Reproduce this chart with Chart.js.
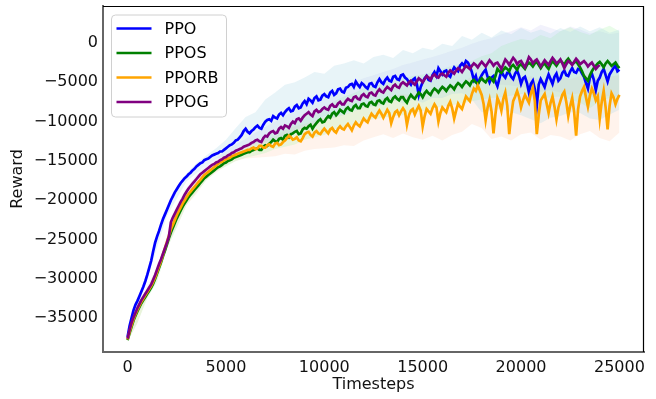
<!DOCTYPE html>
<html>
<head>
<meta charset="utf-8">
<script src="https://cdn.jsdelivr.net/npm/chart.js@4"></script>
<style>
  html, body { margin: 0; padding: 0; background: #fff; }
  #wrap { width: 656px; height: 399px; }
</style>
</head>
<body>
<div id="wrap"><canvas id="reward-canvas" width="656" height="399"></canvas></div>
<script>
// series names + colours (legend order)
const seriesNames = ['PPO', 'PPOS', 'PPORB', 'PPOG'];
const seriesColors = ['#0000ff', '#008000', '#ffa500', '#800080'];

// axis ticks
const xTicks = [0, 5000, 10000, 15000, 20000, 25000];
const yTicks = [-35000, -30000, -25000, -20000, -15000, -10000, -5000, 0];

// mean reward, one value every 100 timesteps (one row = 1000 timesteps)
const ppo = [
  -37400, -36000, -35000, -34000, -33300, -32800, -32200, -31600, -31000, -30300,
  -29500, -28600, -27700, -26500, -25400, -24600, -23900, -23100, -22400, -21800,
  -21200, -20600, -20000, -19500, -19000, -18600, -18200, -17800, -17500, -17200,
  -17000, -16700, -16500, -16200, -16000, -15700, -15500, -15300, -15200, -14900,
  -14800, -14700, -14500, -14300, -14200, -14100, -14000, -13800, -13800, -13600,
  -13400, -13200, -13000, -12900, -12700, -12400, -12300, -12000, -11700, -11200,
  -10900, -11300, -11500, -11200, -11000, -10700, -10500, -10800, -10900, -10400,
  -10000, -9800, -9700, -9900, -9300, -9500, -9600, -9100, -8900, -9200,
  -8800, -8500, -8300, -8700, -8600, -8100, -7900, -8300, -8200, -7700,
  -7400, -7800, -7100, -7300, -7600, -7000, -6800, -7300, -7200, -6700,
  -6500, -6800, -6900, -6300, -6100, -6600, -6400, -5900, -5800, -6200,
  -6300, -5700, -5600, -5300, -5200, -5600, -4900, -5300, -5600, -5100,
  -5300, -5600, -5800, -5200, -5100, -5500, -5600, -5000, -4600, -5000,
  -5200, -4700, -4400, -4800, -4900, -4300, -4200, -4600, -4700, -4100,
  -4000, -4400, -4600, -5000, -5300, -4700, -4500, -5200, -6600, -5600,
  -5000, -4500, -4200, -4700, -4800, -4100, -3700, -4200, -3200, -3600,
  -4000, -3600, -3500, -4100, -4300, -3600, -3100, -3400, -3600, -2900,
  -2600, -2900, -2300, -2500, -3000, -3700, -4700, -4200, -5300, -4600,
  -4100, -3700, -3400, -4300, -5000, -4400, -4200, -4900, -5500, -4500,
  -3600, -4100, -4400, -3800, -3800, -4300, -4600, -3900, -3500, -4200,
  -5200, -4500, -4300, -5100, -6300, -5200, -4800, -5900, -8000, -5300,
  -4600, -5100, -5600, -4700, -4000, -4600, -5200, -4300, -3900, -4800,
  -4500, -3800, -3500, -4100, -4200, -3600, -3200, -3700, -3800, -3300,
  -3400, -3900, -4300, -5100, -5800, -4400, -3900, -4700, -6000, -4800,
  -4400, -3700, -3300, -4100, -4900, -4000, -3600, -3200, -2900, -3600,
  -3400
];
const ppos = [
  -37800, -36900, -36100, -35300, -34700, -34100, -33600, -33100, -32700, -32300,
  -31900, -31500, -31100, -30600, -30000, -29300, -28600, -27900, -27100, -26400,
  -25600, -24800, -24100, -23500, -22900, -22300, -21800, -21300, -20800, -20400,
  -20000, -19600, -19300, -19000, -18700, -18400, -18100, -17800, -17500, -17200,
  -17000, -16800, -16600, -16400, -16200, -16000, -15800, -15700, -15500, -15300,
  -15200, -15000, -14900, -14800, -14600, -14500, -14400, -14300, -14200, -14100,
  -14000, -13900, -13900, -13700, -13600, -13500, -13400, -13600, -13600, -13200,
  -13000, -13100, -12800, -12600, -12300, -12500, -12600, -12200, -12100, -12300,
  -11800, -11700, -12000, -11600, -11500, -11300, -11200, -11600, -11500, -11000,
  -10800, -10900, -10600, -10400, -10900, -10500, -10200, -9900, -9700, -10100,
  -10000, -9600, -9300, -9500, -9000, -8800, -9200, -8900, -8500, -8700,
  -8900, -8400, -8200, -8500, -8600, -8100, -7900, -8300, -8300, -7800,
  -7700, -8000, -8100, -7600, -7500, -7800, -7900, -7400, -7300, -7600,
  -7700, -7200, -7000, -7400, -7500, -7000, -6800, -7100, -7300, -6900,
  -6900, -7300, -7600, -7000, -6600, -6900, -7100, -6700, -6300, -6500,
  -6900, -6400, -6100, -6400, -6600, -6100, -5800, -6000, -6300, -5900,
  -5600, -5800, -6100, -5700, -5400, -5600, -5900, -5400, -5100, -5300,
  -5600, -5200, -4900, -5100, -5400, -4900, -4700, -5000, -5200, -4800,
  -4500, -4800, -5000, -4600, -4400, -4600, -4900, -4200, -3300, -3600,
  -3800, -3400, -3100, -3300, -3600, -3000, -2800, -3100, -3400, -2900,
  -2700, -3000, -3300, -2800, -2500, -2700, -3000, -2600, -2400, -2800,
  -3200, -2800, -2600, -3000, -3300, -2700, -2300, -2600, -2900, -2500,
  -2200, -2500, -2800, -2300, -2000, -2400, -2700, -2500, -2300, -2700,
  -3100, -3600, -4200, -4500, -4800, -4100, -3600, -3200, -2900, -2600,
  -2400, -2700, -3100, -2600, -2300, -2600, -2900, -2700, -2500, -2900,
  -3200
];
const pporb = [
  -37700, -36700, -35900, -35100, -34500, -33900, -33400, -32900, -32500, -32100,
  -31700, -31300, -30900, -30400, -29800, -29100, -28400, -27700, -26900, -26100,
  -25300, -24500, -23700, -23100, -22500, -21900, -21400, -20900, -20400, -20000,
  -19600, -19200, -18900, -18600, -18300, -18000, -17700, -17400, -17100, -16800,
  -16600, -16400, -16200, -16000, -15800, -15600, -15400, -15200, -15100, -14900,
  -14800, -14700, -14600, -14400, -14300, -14200, -14100, -14000, -13900, -13800,
  -13700, -13600, -13600, -13400, -13300, -13500, -13400, -13100, -13100, -13300,
  -13300, -13000, -12900, -13100, -13200, -12800, -12700, -13000, -12900, -12600,
  -12400, -12100, -11800, -12000, -12300, -12200, -12000, -12400, -12500, -12100,
  -11600, -11400, -11300, -11700, -11900, -11400, -11200, -11500, -11600, -11200,
  -10900, -11200, -11500, -11000, -10800, -11200, -11400, -10900, -10600, -10900,
  -11000, -10600, -10300, -10700, -11100, -10500, -10100, -10400, -10600, -10100,
  -9600, -9900, -10100, -9500, -9000, -9300, -9500, -9000, -8600, -9000,
  -9500, -9000, -8500, -8900, -10200, -9400, -8800, -8600, -9200, -8700,
  -8300, -8700, -10400, -9200, -8600, -8400, -9100, -8500, -8000, -8600,
  -10600, -9300, -8400, -8700, -9000, -8300, -7800, -8200, -10000, -8900,
  -8200, -8500, -8800, -8000, -7500, -8300, -9600, -8600, -7700, -8100,
  -8400, -7600, -6800, -7100, -7400, -6500, -5800, -6100, -5400, -6000,
  -6600, -7800, -9800, -8200, -7200, -8700, -11500, -9000, -7000, -7600,
  -8600, -7100, -6300, -8000, -11600, -9200, -7400, -6800, -6100, -6900,
  -8200, -7300, -6600, -7100, -7600, -6400, -5700, -7400, -11600, -9100,
  -7300, -6900, -6500, -7700, -8900, -7600, -6800, -8100, -9700, -8200,
  -7400, -6600, -6200, -7500, -9300, -8000, -7000, -8800, -11800, -8400,
  -6800, -6100, -5600, -6900, -8100, -6700, -5800, -6400, -7300, -6800,
  -9600, -7500, -6100, -8200, -11000, -8000, -6400, -6900, -7800, -7100,
  -6600
];
const ppog = [
  -37600, -36500, -35600, -34900, -34300, -33700, -33200, -32700, -32300, -31900,
  -31500, -31100, -30700, -30100, -29500, -28800, -28100, -27500, -26800, -26100,
  -25400, -24600, -22800, -22200, -21700, -21200, -20700, -20200, -19800, -19300,
  -18900, -18500, -18200, -17900, -17600, -17300, -17000, -16700, -16500, -16300,
  -16100, -15900, -15700, -15500, -15400, -15200, -15100, -14900, -14800, -14600,
  -14500, -14300, -14200, -14000, -13900, -13700, -13600, -13500, -13400, -13200,
  -13100, -13000, -12900, -12700, -12600, -12400, -12300, -12500, -12600, -12100,
  -11800, -11900, -11500, -11300, -11200, -11500, -11400, -10900, -10700, -10900,
  -10500, -10600, -10800, -10300, -10000, -10200, -9700, -9600, -9900, -9500,
  -9200, -9000, -8800, -9100, -9300, -8700, -8500, -8800, -8700, -8400,
  -8200, -8400, -8500, -8000, -7800, -8100, -8100, -7700, -7500, -7800,
  -7800, -7400, -7100, -7300, -7400, -6900, -6800, -7100, -7200, -6700,
  -6500, -6800, -6900, -6400, -6300, -6600, -6700, -6200, -5900, -6200,
  -6300, -5900, -5600, -5800, -6000, -5500, -5300, -5600, -5700, -5200,
  -5000, -5200, -5400, -5000, -4800, -5100, -5300, -4900, -4500, -4700,
  -5000, -4600, -4200, -4400, -4700, -4200, -4000, -4300, -4400, -4000,
  -3900, -4100, -4300, -3800, -3500, -3700, -3900, -3500, -3200, -3400,
  -3700, -3300, -2900, -3100, -3300, -2900, -2600, -2800, -3100, -2700,
  -2400, -2700, -3000, -2600, -2200, -2500, -2900, -2600, -2500, -2900,
  -3300, -2700, -2100, -2400, -2800, -2300, -1900, -2200, -2700, -2400,
  -2300, -2700, -3100, -2500, -1800, -2100, -2600, -2300, -2100, -2500,
  -3000, -2600, -2200, -2500, -2800, -2300, -1900, -2200, -2600, -2400,
  -2100, -2600, -3200, -2700, -2300, -2500, -2800, -2400, -2000, -2300,
  -2700, -2500, -2300, -2600, -3000, -2700, -2500, -2900, -3300, -3000,
  -2800
];

// shaded spread, one value every 500 timesteps
const ppoUpper = [
  -37200, -32800, -29000, -24200, -20800, -18300, -16600, -15300, -14300, -13400,
  -12300, -10800, -9400, -8800, -7200, -6300, -5300, -5000, -4400, -3700,
  -3900, -2900, -2600, -2200, -2600, -1800, -1500, -1900, -900, -1300,
  -600, -900, -100, -400, 900, 400, 1300, 700, 1600, 1100,
  1900, 1300, 1700, 1200, 1900, 1400, 2100, 1500, 2000, 1300,
  1700
];
const ppoLower = [
  -37600, -33800, -30000, -26000, -22000, -19800, -17600, -16600, -15500, -14700,
  -14400, -14200, -13200, -12800, -12600, -12300, -11900, -11200, -10600, -10300,
  -9300, -9500, -9000, -8400, -8000, -8100, -7900, -7200, -7700, -7200,
  -7600, -7000, -7000, -6500, -6400, -7200, -8800, -8600, -8400, -8800,
  -9200, -9700, -10200, -9500, -9300, -8800, -8900, -9600, -9800, -9100,
  -8500
];
const pposUpper = [
  -37400, -34000, -31300, -28800, -25000, -22000, -19400, -17800, -16500, -15500,
  -14700, -14000, -13300, -12700, -12000, -11200, -10600, -10000, -9300, -8800,
  -8200, -7400, -6800, -6400, -5800, -5500, -5200, -4800, -4500, -4200,
  -4000, -3700, -3300, -2900, -2600, -2300, -1700, -1300, -400, 100,
  500, 300, 1000, 600, 1500, 2000, 1400, 1000, 1700, 2200,
  1500
];
const pposLower = [
  -38000, -35600, -32500, -30400, -26200, -23500, -20600, -19000, -17500, -16300,
  -15700, -15000, -14600, -14300, -14000, -13500, -13200, -12900, -12300, -12000,
  -11700, -11000, -10700, -10400, -9900, -9700, -9500, -9300, -9200, -8900,
  -8700, -8300, -8100, -7900, -7700, -7400, -7200, -7000, -6900, -6700,
  -6500, -6600, -7100, -6900, -6800, -7200, -7600, -8300, -7400, -7000,
  -7200
];
const pporbUpper = [
  -37400, -34200, -31200, -28600, -24800, -21400, -19000, -17400, -16000, -15000,
  -14200, -13600, -13000, -12600, -12200, -11900, -11000, -10600, -10300, -9900,
  -9500, -9300, -9100, -8700, -8100, -7600, -7000, -6800, -6500, -6700,
  -6300, -6000, -5900, -5500, -5200, -4200, -4300, -4800, -4600, -4400,
  -4700, -4200, -4800, -4500, -4300, -4600, -4200, -3900, -4500, -4300,
  -4100
];
const pporbLower = [
  -38000, -35600, -32300, -30000, -26000, -23400, -20600, -19200, -17400, -16500,
  -15600, -15000, -14700, -14600, -14500, -14400, -14100, -14200, -13700, -13500,
  -13400, -13300, -13000, -13100, -12400, -12000, -11600, -12100, -11500, -12000,
  -12300, -11800, -12400, -11700, -11300, -10300, -10800, -12200, -11900, -12400,
  -11600, -11400, -12300, -11700, -11900, -12400, -11600, -11200, -12100, -12500,
  -11400
];
const ppogUpper = [
  -37400, -33600, -31000, -28500, -24600, -20600, -18400, -16800, -15500, -14600,
  -13700, -12900, -12200, -11400, -10700, -10000, -9300, -8600, -7900, -7100,
  -6600, -6000, -5500, -5000, -4500, -4100, -3700, -3300, -2800, -2500,
  -2100, -1800, -1400, -1000, -600, -100, 300, 600, 1100, 1500,
  2000, 1600, 2300, 1900, 1500, 2100, 1700, 1200, 1500, 1100,
  1300
];
const ppogLower = [
  -37800, -34500, -32000, -29700, -26200, -22800, -19800, -18200, -16800, -15800,
  -15200, -14600, -14000, -13700, -13200, -12600, -12000, -11300, -10700, -10200,
  -9800, -9500, -9200, -8700, -8300, -8000, -7700, -7400, -7100, -6800,
  -6500, -6300, -6100, -5800, -5400, -5000, -4900, -5100, -5300, -5400,
  -5600, -5800, -6200, -6000, -6300, -6600, -6400, -6800, -7000, -6700,
  -6900
];

const bandColors = [
  'rgba(173, 216, 230, 0.28)',
  'rgba(144, 238, 144, 0.2)',
  'rgba(255, 170, 120, 0.14)',
  'rgba(230, 230, 250, 0.5)'
];

function to_points(values, step) {
  return values.map((v, i) => ({ x: i * step, y: v }));
}

function fmt_minus(v) {
  return v < 0 ? '\u2212' + Math.abs(v) : String(v);
}

const means = [ppo, ppos, pporb, ppog];
const bands = [[ppoUpper, ppoLower], [pposUpper, pposLower], [pporbUpper, pporbLower], [ppogUpper, ppogLower]];

const datasets = [];
bands.forEach((b, i) => {
  const upperIndex = datasets.length;
  datasets.push({
    data: to_points(b[0], 500),
    borderWidth: 0,
    pointRadius: 0,
    fill: false,
    order: 10
  });
  datasets.push({
    data: to_points(b[1], 500),
    borderWidth: 0,
    pointRadius: 0,
    backgroundColor: bandColors[i],
    fill: upperIndex,
    order: 10
  });
});
means.forEach((m, i) => {
  datasets.push({
    label: seriesNames[i],
    data: to_points(m, 100),
    borderColor: seriesColors[i],
    borderWidth: 2.7,
    pointRadius: 0,
    fill: false,
    tension: 0,
    order: 4 - i
  });
});

// legend box in upper left, drawn over the lines
const insideLegend = {
  id: 'insideLegend',
  afterDatasetsDraw(chart) {
    const { ctx, chartArea } = chart;
    const x = chartArea.left + 8.5;
    const y = chartArea.top + 9;
    ctx.save();
    ctx.beginPath();
    ctx.roundRect(x, y, 115, 102, 4);
    ctx.fillStyle = 'rgba(255,255,255,0.8)';
    ctx.fill();
    ctx.strokeStyle = '#d0d0d0';
    ctx.lineWidth = 1;
    ctx.stroke();
    ctx.font = '16px "DejaVu Sans"';
    ctx.textBaseline = 'middle';
    seriesNames.forEach((name, i) => {
      const ly = y + 13.5 + i * 24.5;
      ctx.strokeStyle = seriesColors[i];
      ctx.lineWidth = 2.7;
      ctx.beginPath();
      ctx.moveTo(x + 5, ly);
      ctx.lineTo(x + 40, ly);
      ctx.stroke();
      ctx.fillStyle = '#000';
      ctx.fillText(name, x + 53, ly + 1);
    });
    ctx.restore();
  }
};

// black top + right spines
const frame = {
  id: 'frame',
  afterDraw(chart) {
    const { ctx, chartArea } = chart;
    ctx.save();
    ctx.strokeStyle = '#000';
    ctx.lineWidth = 1.2;
    ctx.beginPath();
    ctx.moveTo(chartArea.left, chartArea.top + 0.5);
    ctx.lineTo(chartArea.right - 0.5, chartArea.top + 0.5);
    ctx.lineTo(chartArea.right - 0.5, chartArea.bottom);
    ctx.stroke();
    ctx.restore();
  }
};

const ctx = document.getElementById('reward-canvas').getContext('2d');
new Chart(ctx, {
  type: 'line',
  data: { datasets: datasets },
  plugins: [insideLegend, frame],
  options: {
    responsive: false,
    animation: false,
    layout: { padding: { top: 6, right: 12, left: 0, bottom: 0 } },
    plugins: {
      legend: { display: false },
      tooltip: { enabled: false },
      filler: { drawTime: 'beforeDatasetsDraw' }
    },
    scales: {
      x: {
        type: 'linear',
        min: -1250,
        max: 26250,
        grid: { display: false, drawTicks: false },
        border: { color: '#666', width: 2 },
        afterBuildTicks: (scale) => { scale.ticks = xTicks.map(v => ({ value: v })); },
        afterFit: (scale) => {
          scale.height = 47;
          scale.paddingLeft = 0;
          scale.paddingRight = 0;
        },
        ticks: {
          padding: 6,
          color: '#111',
          font: { family: 'DejaVu Sans', size: 16 },
          maxRotation: 0,
          callback: (v) => fmt_minus(v)
        },
        title: {
          display: true,
          text: 'Timesteps',
          color: '#111',
          font: { family: 'DejaVu Sans', size: 16 },
          padding: { top: 0, bottom: 5 }
        }
      },
      y: {
        type: 'linear',
        min: -39300,
        max: 4700,
        grid: { display: false, drawTicks: false },
        border: { color: '#666', width: 2 },
        afterBuildTicks: (scale) => { scale.ticks = yTicks.map(v => ({ value: v })); },
        afterFit: (scale) => {
          scale.width = 103;
          scale.paddingTop = 0;
          scale.paddingBottom = 0;
        },
        ticks: {
          padding: 5,
          color: '#111',
          font: { family: 'DejaVu Sans', size: 16 },
          callback: (v) => fmt_minus(v)
        },
        title: {
          display: true,
          text: 'Reward',
          color: '#111',
          font: { family: 'DejaVu Sans', size: 16 },
          padding: { top: 8, bottom: 0 }
        }
      }
    }
  }
});
</script>
</body>
</html>
